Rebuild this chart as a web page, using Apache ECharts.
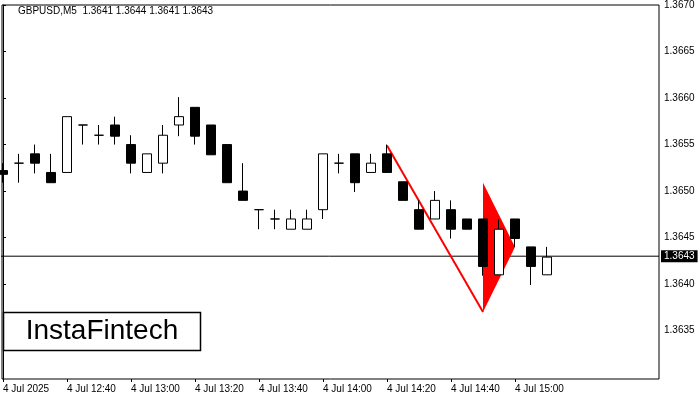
<!DOCTYPE html>
<html><head><meta charset="utf-8">
<script src="https://cdn.jsdelivr.net/npm/echarts@6/dist/echarts.min.js"></script>
<style>html,body{margin:0;padding:0;background:#fff}#c{width:700px;height:400px}</style>
</head><body><div id="c"></div>
<script>
// [open, close, low, high]
const candles = [
[1.36522,1.36518,1.36509,1.36530],
[1.36530,1.36530,1.36509,1.36540],
[1.36540,1.36530,1.36519,1.36550],
[1.36520,1.36509,1.36509,1.36540],
[1.36520,1.36580,1.36520,1.36580],
[1.36571,1.36571,1.36550,1.36571],
[1.36560,1.36560,1.36550,1.36571],
[1.36571,1.36559,1.36550,1.36580],
[1.36550,1.36530,1.36519,1.36560],
[1.36520,1.36540,1.36520,1.36540],
[1.36530,1.36560,1.36519,1.36571],
[1.36571,1.36580,1.36559,1.36601],
[1.36590,1.36559,1.36550,1.36590],
[1.36571,1.36539,1.36539,1.36571],
[1.36550,1.36509,1.36509,1.36550],
[1.36500,1.36490,1.36490,1.36530],
[1.36480,1.36480,1.36459,1.36480],
[1.36470,1.36470,1.36459,1.36480],
[1.36459,1.36470,1.36459,1.36480],
[1.36459,1.36470,1.36459,1.36480],
[1.36480,1.36540,1.36470,1.36540],
[1.36530,1.36530,1.36519,1.36540],
[1.36540,1.36509,1.36499,1.36540],
[1.36520,1.36530,1.36520,1.36540],
[1.36540,1.36520,1.36520,1.36550],
[1.36510,1.36490,1.36490,1.36510],
[1.36480,1.36459,1.36459,1.36490],
[1.36470,1.36490,1.36470,1.36500],
[1.36480,1.36459,1.36449,1.36490],
[1.36470,1.36459,1.36459,1.36470],
[1.36470,1.36419,1.36409,1.36470],
[1.36410,1.36459,1.36410,1.36470],
[1.36470,1.36449,1.36440,1.36470],
[1.36440,1.36419,1.36399,1.36440],
[1.36410,1.36429,1.36410,1.36440]
];
const timeTickIdx = [0,4,8,12,16,20,24,28,32];
const timeLabels = ['4 Jul 2025','4 Jul 12:40','4 Jul 13:00','4 Jul 13:20','4 Jul 13:40','4 Jul 14:00','4 Jul 14:20','4 Jul 14:40','4 Jul 15:00'];
const priceTicks = [1.3635,1.3640,1.3645,1.3650,1.3655,1.3660,1.3665,1.3670];
const currentPrice = 1.3643;
const trendLine = [[24,1.36549],[30,1.36370]];
const pennant = [[30,1.36509],[32,1.36440],[30,1.36370]];
const title = 'GBPUSD,M5  1.3641 1.3644 1.3641 1.3643';

const chart = echarts.init(document.getElementById('c'));
chart.setOption({
  animation:false,
  grid:{left:2,top:4,right:41,bottom:21,show:true,borderColor:'#000',borderWidth:1,backgroundColor:'#fff'},
  xAxis:{type:'value',min:-1/16,max:41,
    axisLine:{show:false},splitLine:{show:false},
    axisTick:{show:true,customValues:timeTickIdx,length:3,lineStyle:{color:'#000'}},
    axisLabel:{customValues:timeTickIdx,align:'left',color:'#000',fontSize:10,fontFamily:'Liberation Sans',margin:5,
      formatter:v=>timeLabels[timeTickIdx.indexOf(Math.round(v))]||''}},
  yAxis:{type:'value',position:'right',min:1.36298,max:1.3670,scale:true,
    axisLine:{show:true,lineStyle:{color:'#000'}},splitLine:{show:false},
    axisTick:{show:true,customValues:priceTicks,length:3,lineStyle:{color:'#000'}},
    axisLabel:{customValues:priceTicks,color:'#000',fontSize:10,fontFamily:'Liberation Sans',margin:5,formatter:v=>v.toFixed(4)}},
  graphic:[
    {type:'text',left:18,top:6,style:{text:title,fontSize:10,fontFamily:'Liberation Sans',fill:'#000'},z:100},
    {type:'rect',shape:{x:3.5,y:312.5,width:197,height:38},style:{fill:'#fff',stroke:'#000',lineWidth:1.5},z:100},
    {type:'text',x:102,y:331,style:{text:'InstaFintech',fontSize:28,fontFamily:'Liberation Sans',fill:'#000',align:'center',verticalAlign:'middle'},z:101}
  ],
  series:[
    {type:'line',z:0,data:[[-1,currentPrice],[41,currentPrice]],symbol:'none',clip:true,
      lineStyle:{color:'#000',width:1},
      endLabel:{show:true,formatter:()=>currentPrice.toFixed(4),backgroundColor:'#000',color:'#fff',fontSize:10,fontFamily:'Liberation Sans',padding:[1,3],distance:2}},
    {type:'custom',z:1,clip:true,
      renderItem:(params,api)=>{
        const pts = pennant.map(p=>api.coord(p));
        return {type:'polygon',shape:{points:pts},style:{fill:'#ff0000'}};
      },
      data:[0]},
    {type:'line',z:2,data:trendLine,symbol:'none',lineStyle:{color:'#ff0000',width:2}},
    {type:'candlestick',z:3,barWidth:10,
      data:candles.map((c,i)=>[i,c[0],c[1],c[2],c[3]]),
      encode:{x:0,y:[1,2,3,4]},
      itemStyle:{color:'#fff',color0:'#000',borderColor:'#000',borderColor0:'#000',borderWidth:1}
    }
  ]
});
</script></body></html>
